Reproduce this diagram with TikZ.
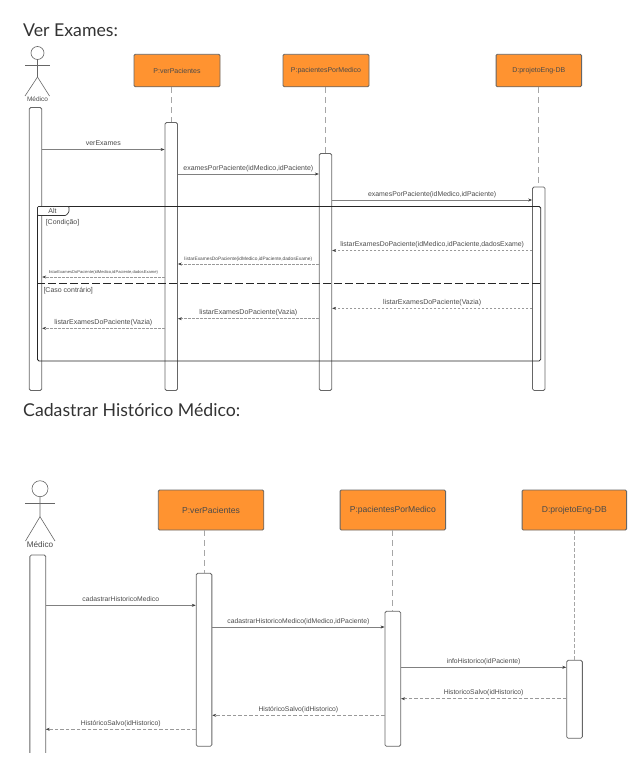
\documentclass[tikz,border=0pt]{standalone}
\usepackage{fontspec}
\setmainfont{Liberation Sans}
\newfontfamily\titlefont{Lato}
\usetikzlibrary{arrows.meta,positioning}
\definecolor{boxorange}{HTML}{FF9330}
\definecolor{boxline}{HTML}{666666}
\definecolor{msgtext}{HTML}{4A4A4A}
\newcommand{\fs}[1]{\fontsize{#1}{#1}\selectfont}
\tikzset{
  lifebox/.style={draw=boxline, line width=0.9pt, fill=boxorange, rounded corners=1.2pt, inner sep=0pt, text=msgtext},
  actbox/.style={draw=boxline, line width=0.8pt, fill=white, rounded corners=1.5pt, inner sep=0pt},
  lifeline/.style={draw=black!35, line width=0.8pt, dash pattern=on 6pt off 4pt},
  msg/.style={draw=black!50, line width=0.5pt, -{Stealth[length=4pt,width=3pt,color=black!75]}},
  reply/.style={draw=black!40, line width=0.5pt, dash pattern=on 2.5pt off 1.5pt, -{Stealth[length=4pt,width=3pt,color=black!75]}},
  lbl/.style={midway, anchor=base, yshift=4pt, inner sep=0pt, text=msgtext},
  actor/.style={draw=black!60, line width=0.6pt},
  title/.style={anchor=base west, inner sep=0pt, text=black!80, font=\titlefont\fs{17.7}},
}
\begin{document}
\begin{tikzpicture}[x=1pt, y=-1pt, >=Stealth]
  \useasboundingbox (0,0) rectangle (640,779);
  \node[title] (tituloExames) at (23,36) {Ver Exames:};
  % primeiro diagrama
  \node[actor, draw, circle, minimum size=13pt, inner sep=0pt] (cabeca) at (37.5,53) {};
  \draw[actor] (cabeca.south) -- (37.5,77) -- (25,96);
  \draw[actor] (37.5,77) -- (49.5,96);
  \draw[actor] (25,65) -- (49.5,65);
  \node[text=msgtext, inner sep=0pt, font=\fs{6.5}] (medico) at (37.5,99.5) {Médico};
  \node[lifebox, font=\fs{7}, minimum width=86pt, minimum height=32.5pt] (ver) at (177,70.5) {P:verPacientes};
  \node[lifebox, font=\fs{7}, minimum width=86pt, minimum height=32.5pt] (pac) at (326,70.5) {P:pacientesPorMedico};
  \node[lifebox, font=\fs{7}, minimum width=85.5pt, minimum height=32.5pt] (db) at (538.8,70.5) {D:projetoEng-DB};
  \node[actbox, minimum width=12.5pt, minimum height=283pt] (aMed) at (35.5,249) {};
  \node[actbox, minimum width=12.5pt, minimum height=268pt] (aVer) at (171.2,256.5) {};
  \node[actbox, minimum width=12.5pt, minimum height=237pt] (aPac) at (325.5,272) {};
  \node[actbox, minimum width=12.5pt, minimum height=203.5pt] (aDb) at (538.8,288.7) {};
  \draw[lifeline] (aVer.north |- ver.south) -- (aVer.north);
  \draw[lifeline] (aPac.north |- pac.south) -- (aPac.north);
  \draw[lifeline] (aDb.north |- db.south) -- (aDb.north);
  \draw[msg] (aMed.east |- 0,149.5) -- (aVer.west |- 0,149.5) node[lbl, font=\fs{7}] (m1) {verExames};
  \draw[msg] (aVer.east |- 0,174) -- (aPac.west |- 0,174) node[lbl, font=\fs{7}] (m2) {examesPorPaciente(idMedico,idPaciente)};
  \draw[msg] (aPac.east |- 0,200) -- (aDb.west |- 0,200) node[lbl, font=\fs{6.9}] (m3) {examesPorPaciente(idMedico,idPaciente)};
  % fragmento alt
  \node[draw=black!85, line width=0.8pt, rounded corners=1.5pt, inner sep=0pt, minimum width=503.2pt, minimum height=154.5pt] (alt) at (289.1,283.7) {};
  \draw[draw=black!80, line width=0.7pt, fill=white, rounded corners=1pt] (37.5,206.5) -- (69,206.5) -- (69,212) -- (66,215.5) -- (37.5,215.5) -- cycle;
  \node[text=msgtext, inner sep=0pt, font=\fs{7}] (altTag) at (52.5,210.5) {Alt};
  \node[text=msgtext, inner sep=0pt, anchor=base west, font=\fs{7}] (cond) at (45.6,224.3) {[Condição]};
  \draw[draw=black!85, line width=0.9pt, dash pattern=on 8pt off 3pt] (alt.west |- 0,283.5) -- (alt.east |- 0,283.5);
  \node[text=msgtext, inner sep=0pt, anchor=base west, font=\fs{7}] (caso) at (43.3,292.3) {[Caso contrário]};
  \draw[reply] (aDb.west |- 0,250.5) -- (aPac.east |- 0,250.5) node[lbl, font=\fs{6.9}] (r1) {listarExamesDoPaciente(idMedico,idPaciente,dadosExame)};
  \draw[reply] (aPac.west |- 0,264) -- (aVer.east |- 0,264) node[lbl, font=\fs{4.8}] (r2) {listarExamesDoPaciente(idMedico,idPaciente,dadosExame)};
  \draw[reply] (aVer.west |- 0,277) -- (aMed.east |- 0,277) node[lbl, font=\fs{4.1}] (r3) {listarExamesDoPaciente(idMedico,idPaciente,dadosExame)};
  \draw[reply] (aDb.west |- 0,308.3) -- (aPac.east |- 0,308.3) node[lbl, font=\fs{7}] (r4) {listarExamesDoPaciente(Vazia)};
  \draw[reply] (aPac.west |- 0,318.7) -- (aVer.east |- 0,318.7) node[lbl, font=\fs{7}] (r5) {listarExamesDoPaciente(Vazia)};
  \draw[reply] (aVer.west |- 0,328.3) -- (aMed.east |- 0,328.3) node[lbl, font=\fs{7}] (r6) {listarExamesDoPaciente(Vazia)};
  \node[title] (tituloHist) at (23,416) {Cadastrar Histórico Médico:};
  % segundo diagrama
  \node[actor, draw, circle, minimum size=16pt, inner sep=0pt] (cabecaB) at (40,488.7) {};
  \draw[actor] (cabecaB.south) -- (40,516.7) -- (25.5,541);
  \draw[actor] (40,516.7) -- (55,541);
  \draw[actor] (25,503.3) -- (55,503.3);
  \node[text=msgtext, inner sep=0pt, font=\fs{8.2}] (medicoB) at (40,545) {Médico};
  \node[lifebox, font=\fs{8.6}, minimum width=105.5pt, minimum height=40pt] (verB) at (211,510) {P:verPacientes};
  \node[lifebox, font=\fs{8.6}, minimum width=105.5pt, minimum height=40pt] (pacB) at (392.8,510) {P:pacientesPorMedico};
  \node[lifebox, font=\fs{8.6}, minimum width=104.5pt, minimum height=40pt] (dbB) at (574.3,510) {D:projetoEng-DB};
  \node[minimum width=15.5pt, minimum height=197.5pt, inner sep=0pt] (aMedB) at (37.8,654) {};
  \draw[actbox, fill=none] (aMedB.south west) -- (aMedB.north west) -- (aMedB.north east) -- (aMedB.south east);
  \node[actbox, minimum width=15.7pt, minimum height=173pt] (aVerB) at (204,659.8) {};
  \node[actbox, minimum width=15.7pt, minimum height=135pt] (aPacB) at (392.8,678.8) {};
  \node[actbox, minimum width=15.7pt, minimum height=78pt] (aDbB) at (574.5,699.3) {};
  \draw[lifeline, line width=1pt] (aVerB.north |- verB.south) -- (aVerB.north);
  \draw[lifeline, line width=1pt] (aPacB.north |- pacB.south) -- (aPacB.north);
  \draw[lifeline, line width=0.6pt, dash pattern=on 4pt off 2pt] (aDbB.north |- dbB.south) -- (aDbB.north);
  \draw[msg] (aMedB.east |- 0,605.3) -- (aVerB.west |- 0,605.3) node[lbl, font=\fs{6.8}] (n1) {cadastrarHistoricoMedico};
  \draw[msg] (aVerB.east |- 0,627) -- (aPacB.west |- 0,627) node[lbl, font=\fs{6.8}] (n2) {cadastrarHistoricoMedico(idMedico,idPaciente)};
  \draw[msg] (aPacB.east |- 0,667.3) -- (aDbB.west |- 0,667.3) node[lbl, font=\fs{6.8}] (n3) {infoHistorico(idPaciente)};
  \draw[reply, dash pattern=on 3.5pt off 2pt] (aDbB.west |- 0,698.7) -- (aPacB.east |- 0,698.7) node[lbl, font=\fs{6.8}] (q1) {HistoricoSalvo(idHistorico)};
  \draw[reply, dash pattern=on 3.5pt off 2pt] (aPacB.west |- 0,715.3) -- (aVerB.east |- 0,715.3) node[lbl, font=\fs{6.8}] (q2) {HistóricoSalvo(idHistorico)};
  \draw[reply, dash pattern=on 3.5pt off 2pt] (aVerB.west |- 0,729.3) -- (aMedB.east |- 0,729.3) node[lbl, font=\fs{6.8}] (q3) {HistóricoSalvo(idHistorico)};
\end{tikzpicture}
\end{document}
